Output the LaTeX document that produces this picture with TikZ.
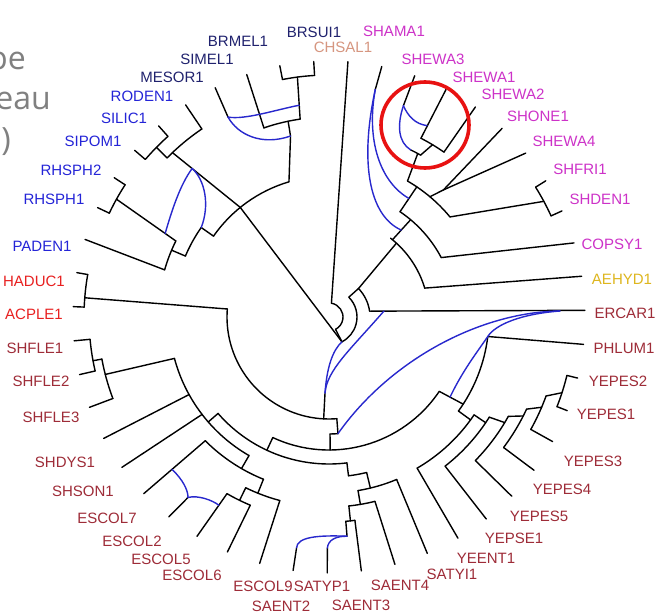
\documentclass[tikz,border=0pt]{standalone}
\usepackage{fontspec}
\setmainfont{Liberation Sans}
\newfontfamily\slidefont{Open Sans}
\usetikzlibrary{calc}
\definecolor{navylab}{RGB}{32,34,110}
\definecolor{bluelab}{RGB}{36,36,215}
\definecolor{chsal}{RGB}{214,150,128}
\definecolor{magentalab}{RGB}{205,50,200}
\definecolor{goldlab}{RGB}{222,182,30}
\definecolor{darkredlab}{RGB}{158,44,56}
\definecolor{redlab}{RGB}{232,32,32}
\definecolor{hgtblue}{RGB}{40,40,205}
\definecolor{circred}{RGB}{232,18,18}
\definecolor{slidegray}{RGB}{128,128,128}
\newcommand\tarcr[3]{\draw[tree] (#2:#1) arc[start angle=#2, end angle=#3, radius=#1pt];}
\newcommand\tlin[4]{\draw[tree] (#1:#2) -- (#3:#4);}
\begin{document}
\begin{tikzpicture}[x=1pt,y=1pt,
  tree/.style={line width=1.4pt, line join=round, line cap=round, draw=black},
  hgt/.style={line width=1.4pt, draw=hgtblue, line cap=round},
  lab/.style={font=\fontsize{15}{15}\selectfont, inner sep=0pt, anchor=center},
  slide/.style={font=\slidefont\fontsize{32}{32}\selectfont, text=slidegray, inner sep=0pt, anchor=base east},
  ring/.style={line width=3.6pt, draw=circred}]
\useasboundingbox (0,0) rectangle (659,614);
\fill[white] (0,0) rectangle (659,614);

% ---------------- tree (polar, centred) ----------------
\begin{scope}[shift={(329,297)}]
\foreach \i in {0,...,46} {\coordinate (t\i) at ({1.5+7.66*\i}:256);}
\coordinate (root) at (-62.5:28);
% root spiral
\draw[tree] (t11) -- (80:14);
\tarcr{14}{80}{-62}
\tlin{-62}{14}{-62.5}{28}
\tarcr{28}{45}{-62.5}
\tlin{44}{41}{45}{28}
\tarcr{41}{8}{44}
% gamma part
\draw[tree] (t0) -- (8:42);
\draw[tree] (t1) -- (16.8:100);
\tarcr{100}{16.8}{52}
\tlin{47.6}{100}{44}{41}
\draw[tree] (t2) -- (27.9:127);
\tarcr{127}{27.9}{56}
\tlin{50}{127}{50.6}{100}
\draw[tree] (t3) -- (24.48:244);
\draw[tree] (t4) -- (32.14:244);
\tarcr{244}{24.48}{32.14}
\tlin{28.3}{244}{39.6}{157}
\draw[tree] (t5) -- (48:171);
\draw[tree] (t6) -- (48:171);
\tlin{48}{171}{50}{157}
\draw[tree] (t7) -- (55.12:201);
\draw[tree] (t8) -- (62.78:201);
\tarcr{201}{55.12}{62.78}
\tlin{59}{201}{60.5}{186}
\tarcr{186}{60.5}{64}
\tlin{61.5}{186}{60}{157}
\tarcr{157}{39.6}{60}
\tlin{56}{157}{56}{127}
\draw[tree] (t9) -- (70.6:224);
\draw[tree] (t10) -- (78.5:232);
\coordinate (sw3) at (70.6:224);
\coordinate (sham) at (78.5:232);
\coordinate (g186) at (64:186);
\coordinate (sw1) at (62.9:215);
\coordinate (g143) at (56:143);
\coordinate (g113) at (50.3:113);
% enterobacteria part
\draw[tree] (t22) -- (170.02:245);
\draw[tree] (t23) -- (177.68:245);
\tarcr{245}{170.02}{177.68}
\tlin{175.5}{245}{175.5}{102}
\tarcr{102}{175.5}{274.4}
\tlin{267}{102}{267}{76}
\coordinate (e267) at (267:76);
\tlin{274.4}{102}{274.4}{117}
\coordinate (e274) at (274.4:117);
\tarcr{117}{274.4}{270.5}
\tlin{270.5}{117}{270.5}{133}
\tarcr{133}{245}{326}
\tlin{245}{133}{245}{147}
\tarcr{147}{221}{277}
\tlin{221}{147}{221}{160}
\tarcr{160}{195}{240}
\draw[tree] (t24) -- (185.34:240);
\draw[tree] (t25) -- (193:240);
\tarcr{240}{185.34}{193}
\tlin{190.5}{240}{190.5}{231}
\draw[tree] (t26) -- (200.66:231);
\tarcr{231}{190.5}{200.66}
\tlin{194.4}{231}{195}{160}
\draw[tree] (t27) -- (209:160);
\draw[tree] (t28) -- (217.5:160);
\tlin{240}{160}{240}{175}
\tarcr{175}{225}{248}
\draw[tree] (t29) -- (225:175);
\draw[tree] (t30) -- (232:229);
\draw[tree] (t31) -- (240:204);
\draw[tree] (t32) -- (247.3:204);
\tarcr{204}{240}{247.3}
\tlin{244}{204}{244}{190}
\tarcr{190}{244}{255}
\draw[tree] (t33) -- (255:190);
\tlin{248}{190}{248}{175}
\coordinate (e2) at (232:229);
\coordinate (e7b) at ($(t29)!0.46!(225:175)$);
\coordinate (e5b) at ($(t31)!0.73!(240:204)$);
% salmonella
\draw[tree] (t34) -- (262:233);
\draw[tree] (t35) -- (269.6:231);
\coordinate (sa2) at (262:233);
\coordinate (sty) at (269.6:231);
\coordinate (sa0) at (274.7:220);
\draw[tree] (t36) -- (277.26:205);
\tlin{274.7}{220}{274.7}{205}
\tarcr{205}{274.7}{277.26}
\tlin{276}{205}{276}{190}
\draw[tree] (t37) -- (284:190);
\tarcr{190}{276}{284}
\tlin{279.5}{190}{279.5}{176}
\draw[tree] (t38) -- (292.6:176);
\tarcr{176}{279.5}{292.6}
\tlin{283.6}{176}{283.6}{160}
\tarcr{160}{277}{283.6}
\tlin{277}{160}{277}{147}
% yersinia + photorhabdus
\tlin{326}{133}{327}{160}
\tarcr{160}{324}{353}
\draw[tree] (t46) -- (353:160);
\coordinate (phl) at (353:160);
\coordinate (ynode) at ($(326:133)!0.45!(327:160)$);
\draw[tree] (t44) -- (338.54:245);
\draw[tree] (t45) -- (346.2:245);
\tarcr{245}{338.54}{346.2}
\tlin{342}{245}{340}{231}
\draw[tree] (t43) -- (330.88:231);
\tarcr{231}{330.88}{340}
\tlin{337}{231}{335}{218}
\draw[tree] (t42) -- (323.22:218);
\tarcr{218}{323.22}{335}
\tlin{333}{218}{331}{205}
\draw[tree] (t41) -- (315.56:205);
\tarcr{205}{315.56}{331}
\tlin{329}{205}{328}{189}
\draw[tree] (t40) -- (307.9:189);
\tarcr{189}{307.9}{328}
\tlin{326}{189}{326}{175}
\draw[tree] (t39) -- (300.24:175);
\tarcr{175}{300.24}{326}
\tlin{324}{175}{324}{160}
% alpha part
\draw[tree] (t12) -- (93.42:242);
\draw[tree] (t13) -- (101.08:242);
\tarcr{242}{93.42}{101.08}
\tlin{97.5}{242}{98.3}{200}
\draw[tree] (t14) -- (109:200);
\tarcr{200}{98.3}{109}
\tlin{101.8}{200}{102}{185}
\tlin{102}{185}{106.5}{141}
\coordinate (a3) at (102:185);
\coordinate (a1b) at ($(97.5:242)!0.67!(98.3:200)$);
\draw[tree] (t15) -- (116.8:224);
\coordinate (mes) at (116.8:224);
\draw[tree] (t17) -- (131.72:242);
\draw[tree] (t18) -- (139.38:242);
\tarcr{242}{131.72}{139.38}
\tlin{135.5}{242}{135.5}{227}
\draw[tree] (t16) -- (124.06:227);
\tarcr{227}{124.06}{135.5}
\tlin{133.6}{227}{129}{141}
\coordinate (a5b) at ($(133.6:227)!0.29!(129:141)$);
\draw[tree] (t19) -- (147.04:243);
\draw[tree] (t20) -- (154.7:243);
\tarcr{243}{147.04}{154.7}
\tlin{151}{243}{153.6}{171}
\coordinate (a6b) at ($(151:243)!0.82!(153.6:171)$);
\draw[tree] (t21) -- (164:171);
\tarcr{171}{153.6}{164}
\tlin{157}{171}{157}{156}
\tarcr{156}{145}{157}
\tlin{145}{156}{145}{141}
\coordinate (a8e) at (145:156);
\tarcr{141}{106.5}{145}
\draw[tree] (129:141) -- (root);
\end{scope}

% ---------------- screen-coordinate items ----------------
\begin{scope}[shift={(0,614)},yscale=-1]
% transfer (blue) curves
\draw[hgt] (root) .. controls (333,350) and (327,366) .. (e267);
\draw[hgt] (384,311) .. controls (350,350) and (327,370) .. (e267);
\draw[hgt] (560,311) .. controls (480,312) and (390,360) .. (e274);
\draw[hgt] (560,311) .. controls (520,314) and (495,325) .. (phl)
                     .. controls (475,355) and (462,372) .. (ynode);
\draw[hgt] (sham) .. controls (366,140) and (380,182) .. (g143);
\draw[hgt] (sham) .. controls (360,160) and (368,215) .. (g113);
\draw[hgt] (sw3) .. controls (397,125) and (398,142) .. (g186);
\draw[hgt] (sw3) .. controls (408,116) and (415,124) .. (sw1);
\draw[hgt] (mes) .. controls (245,120) and (275,110) .. (a1b);
\draw[hgt] (mes) .. controls (238,135) and (262,146) .. (a3);
\draw[hgt] (a6b) .. controls (172,210) and (180,185) .. (a5b);
\draw[hgt] (a5b) .. controls (205,180) and (210,205) .. (a8e);
\draw[hgt] (e7b) .. controls (183,480) and (188,490) .. (e2);
\draw[hgt] (e2) .. controls (198,495) and (212,500) .. (e5b);
\draw[hgt] (sa2) .. controls (297,537) and (318,535) .. (sa0);
\draw[hgt] (sty) .. controls (328,540) and (336,536) .. (sa0);

% highlight ring
\draw[ring] (425,125) ellipse [x radius=44, y radius=43];

% slide text cut at the left edge
\node[slide] (s1) at (26,70) {pe};
\node[slide] (s2) at (51,110) {eau};
\node[slide] (s3) at (11,151) {)};

% leaf labels
\node[lab,text=navylab] (lBRSUI) at (314,32) {BRSUI1};
\node[lab,text=navylab] (lBRMEL) at (238,41) {BRMEL1};
\node[lab,text=navylab] (lSIMEL) at (207,59) {SIMEL1};
\node[lab,text=navylab] (lMESOR) at (172,77) {MESOR1};
\node[lab,text=bluelab] (lRODEN) at (142,96) {RODEN1};
\node[lab,text=bluelab] (lSILIC) at (124,118) {SILIC1};
\node[lab,text=bluelab] (lSIPOM) at (93,141) {SIPOM1};
\node[lab,text=bluelab] (lRHSPH2) at (71,170) {RHSPH2};
\node[lab,text=bluelab] (lRHSPH1) at (54,199) {RHSPH1};
\node[lab,text=bluelab] (lPADEN) at (42,246) {PADEN1};
\node[lab,text=redlab] (lHADUC) at (34,281) {HADUC1};
\node[lab,text=redlab] (lACPLE) at (34,314) {ACPLE1};
\node[lab,text=darkredlab] (lSHFLE1) at (35,348) {SHFLE1};
\node[lab,text=darkredlab] (lSHFLE2) at (41,381) {SHFLE2};
\node[lab,text=darkredlab] (lSHFLE3) at (51,417) {SHFLE3};
\node[lab,text=darkredlab] (lSHDYS) at (65,462) {SHDYS1};
\node[lab,text=darkredlab] (lSHSON) at (83,491) {SHSON1};
\node[lab,text=darkredlab] (lESCOL7) at (107,518) {ESCOL7};
\node[lab,text=darkredlab] (lESCOL2) at (132,541) {ESCOL2};
\node[lab,text=darkredlab] (lESCOL5) at (161,559) {ESCOL5};
\node[lab,text=darkredlab] (lESCOL6) at (192,575) {ESCOL6};
\node[lab,text=darkredlab] (lESCOL9) at (263,586) {ESCOL9};
\node[lab,text=darkredlab] (lSAENT2) at (281,606) {SAENT2};
\node[lab,text=darkredlab] (lSATYP) at (322,586) {SATYP1};
\node[lab,text=darkredlab] (lSAENT3) at (361,605) {SAENT3};
\node[lab,text=darkredlab] (lSAENT4) at (400,585) {SAENT4};
\node[lab,text=darkredlab] (lSATYI) at (452,574) {SATYI1};
\node[lab,text=darkredlab] (lYEENT) at (486,558) {YEENT1};
\node[lab,text=darkredlab] (lYEPSE) at (514,538) {YEPSE1};
\node[lab,text=darkredlab] (lYEPES5) at (539,516) {YEPES5};
\node[lab,text=darkredlab] (lYEPES4) at (562,489) {YEPES4};
\node[lab,text=darkredlab] (lYEPES3) at (593,461) {YEPES3};
\node[lab,text=darkredlab] (lYEPES1) at (606,414) {YEPES1};
\node[lab,text=darkredlab] (lYEPES2) at (618,381) {YEPES2};
\node[lab,text=darkredlab] (lPHLUM) at (624,348) {PHLUM1};
\node[lab,text=darkredlab] (lERCAR) at (625,313) {ERCAR1};
\node[lab,text=goldlab] (lAEHYD) at (622,279) {AEHYD1};
\node[lab,text=magentalab] (lCOPSY) at (612,244) {COPSY1};
\node[lab,text=magentalab] (lSHDEN) at (600,199) {SHDEN1};
\node[lab,text=magentalab] (lSHFRI) at (580,169) {SHFRI1};
\node[lab,text=magentalab] (lSHEWA4) at (564,141) {SHEWA4};
\node[lab,text=magentalab] (lSHONE) at (538,116) {SHONE1};
\node[lab,text=magentalab] (lSHEWA2) at (513,94) {SHEWA2};
\node[lab,text=magentalab] (lSHEWA1) at (484,77) {SHEWA1};
\node[lab,text=magentalab] (lSHEWA3) at (433,59) {SHEWA3};
\node[lab,text=magentalab] (lSHAMA) at (394,31) {SHAMA1};
\node[lab,text=chsal] (lCHSAL) at (343,47) {CHSAL1};
\end{scope}
\end{tikzpicture}
\end{document}
